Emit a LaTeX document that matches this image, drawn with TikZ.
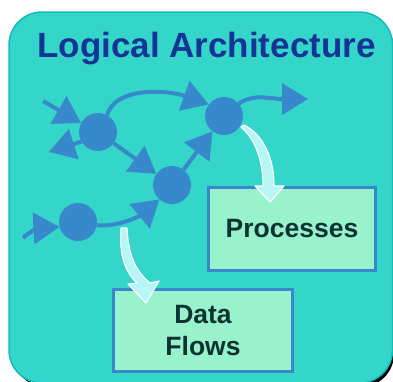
\documentclass[tikz,border=0pt]{standalone}
\usepackage{fontspec}
\setmainfont{Liberation Sans}
\usetikzlibrary{arrows.meta}
\definecolor{bgteal}{RGB}{52,214,202}
\definecolor{bgedge}{RGB}{20,186,186}
\definecolor{titleblue}{RGB}{22,52,150}
\definecolor{nodeblue}{RGB}{56,136,204}
\definecolor{boxfill}{RGB}{152,242,204}
\definecolor{boxtext}{RGB}{12,50,50}
\definecolor{flowfill}{RGB}{182,246,246}
\begin{document}
\begin{tikzpicture}[x=1pt,y=-1pt,
  dot/.style={circle,fill=nodeblue,minimum size=38pt,inner sep=0pt},
  flow/.style={draw=nodeblue,line width=4pt,-{Triangle[length=26pt,width=31pt]}},
  infobox/.style={draw=nodeblue,line width=3pt,fill=boxfill,text=boxtext,font=\bfseries\fontsize{26.5}{32}\selectfont,align=center,inner sep=0pt},
  blockarrow/.style={fill=flowfill,draw=white,line width=1.2pt,line join=round}]
\useasboundingbox (0,0) rectangle (393,381);
\fill[black,rounded corners=33pt] (13,16) rectangle (394,387);
\filldraw[fill=bgteal,draw=bgedge,line width=1.5pt,rounded corners=33pt] (9,12) rectangle (392.5,383);
\node[anchor=base,text=titleblue,font=\bfseries\fontsize{35}{40}\selectfont] (title) at (206.5,57) {Logical Architecture};
\node[dot] (c1) at (98,132) {};
\node[dot] (c2) at (224,116) {};
\node[dot] (c3) at (172,185) {};
\node[dot] (c4) at (78,222) {};
\node[infobox,minimum width=167pt,minimum height=83pt] (proc) at (292,229) {Processes};
\node[infobox,minimum width=179pt,minimum height=82pt] (data) at (203,330.5) {Data\\Flows};
\coordinate (s1) at (43,101);
\coordinate (t1) at (49,152);
\coordinate (t2) at (308,99);
\coordinate (s4) at (23,238);
\draw[flow] (s1) -- (c1.152);
\draw[flow] (c1.210) -- (t1);
\draw[flow] (c1.62) .. controls (116,86) and (168,90) .. (c2.143);
\draw[flow] (c2.40) .. controls (255,93) and (268,99) .. (t2);
\draw[flow] (c1) -- (c3);
\draw[flow] (c3) -- (c2);
\draw[flow] (s4) .. controls (30,231) and (40,228) .. (c4.195);
\draw[flow] (c4.350) .. controls (120,227) and (141,215) .. (c3.229);
\path[blockarrow] (241,127) .. controls (254,138) and (263,158) .. (263,186) -- (255,186) -- (270,202) -- (284,186) -- (274,186) .. controls (274,156) and (262,134) .. (244,125) -- cycle;
\path[blockarrow] (121,228) .. controls (119,255) and (125,272) .. (137,283) -- (128,284) -- (146,303) -- (159,281) -- (150,283) .. controls (134,270) and (128,252) .. (127,228) -- cycle;
\end{tikzpicture}
\end{document}
